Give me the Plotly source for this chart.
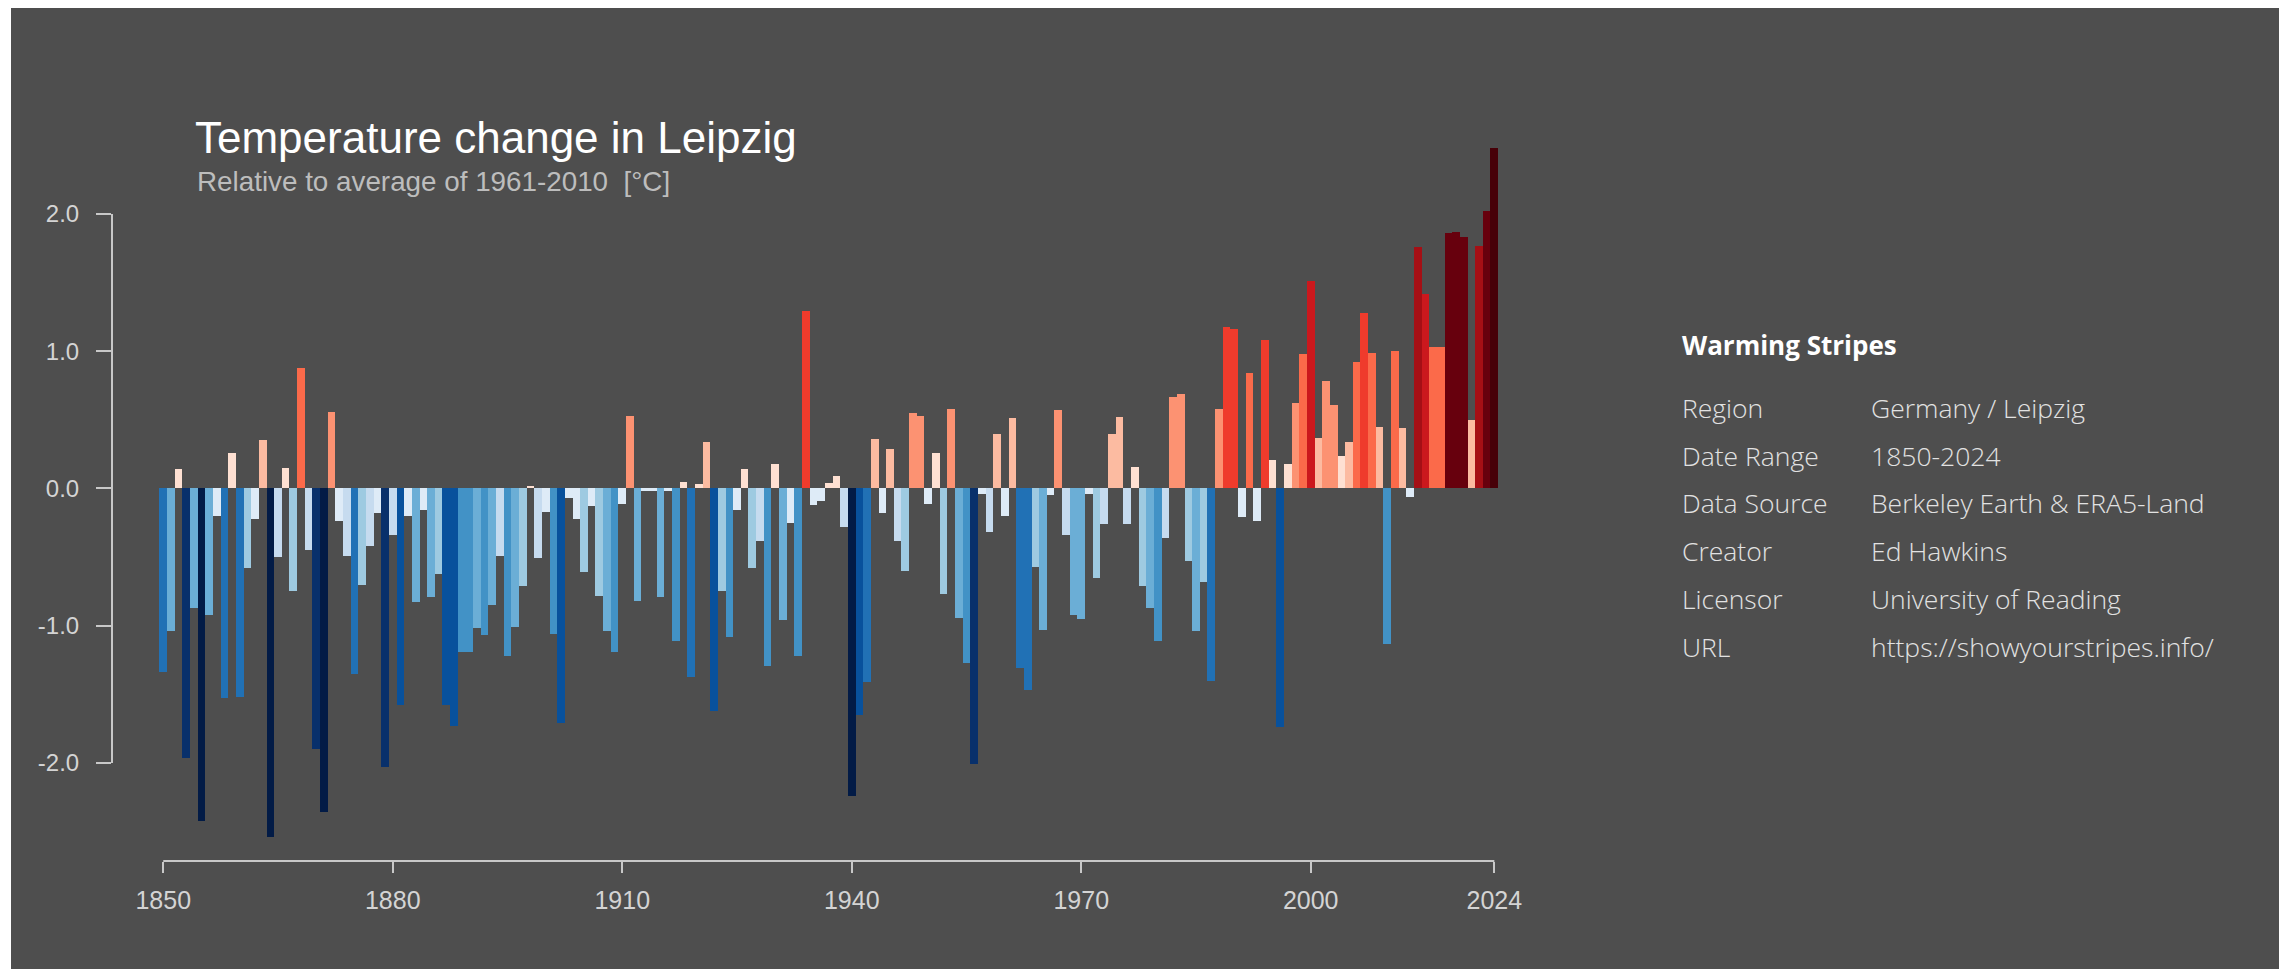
import plotly.graph_objects as go

# ---------------- data ----------------
years = list(range(1850, 2025))
anomaly = [
    -1.34, -1.04, 0.14, -1.96, -0.87, -2.42, -0.92, -0.20, -1.53, 0.26,   # 1850-1859
    -1.52, -0.58, -0.22, 0.35, -2.54, -0.50, 0.15, -0.75, 0.88, -0.45,    # 1860-1869
    -1.90, -2.36, 0.56, -0.24, -0.49, -1.35, -0.70, -0.42, -0.18, -2.03,  # 1870-1879
    -0.34, -1.58, -0.20, -0.83, -0.16, -0.79, -0.62, -1.58, -1.73, -1.19, # 1880-1889
    -1.19, -1.02, -1.07, -0.85, -0.49, -1.22, -1.01, -0.71, 0.02, -0.51,  # 1890-1899
    -0.17, -1.06, -1.71, -0.07, -0.22, -0.61, -0.13, -0.78, -1.04, -1.19, # 1900-1909
    -0.11, 0.53, -0.82, -0.02, -0.02, -0.79, -0.02, -1.11, 0.05, -1.37,   # 1910-1919
    0.03, 0.34, -1.62, -0.75, -1.08, -0.16, 0.14, -0.58, -0.38, -1.29,    # 1920-1929
    0.18, -0.96, -0.25, -1.22, 1.29, -0.12, -0.09, 0.04, 0.09, -0.28,     # 1930-1939
    -2.24, -1.65, -1.41, 0.36, -0.18, 0.29, -0.38, -0.60, 0.55, 0.53,     # 1940-1949
    -0.11, 0.26, -0.77, 0.58, -0.94, -1.27, -2.01, -0.04, -0.32, 0.40,    # 1950-1959
    -0.20, 0.51, -1.31, -1.47, -0.57, -1.03, -0.05, 0.57, -0.34, -0.92,   # 1960-1969
    -0.95, -0.04, -0.65, -0.26, 0.40, 0.52, -0.26, 0.16, -0.71, -0.87,    # 1970-1979
    -1.11, -0.36, 0.67, 0.69, -0.53, -1.04, -0.68, -1.40, 0.58, 1.18,     # 1980-1989
    1.16, -0.21, 0.84, -0.24, 1.08, 0.21, -1.74, 0.18, 0.62, 0.98,        # 1990-1999
    1.51, 0.37, 0.78, 0.61, 0.24, 0.34, 0.92, 1.28, 0.99, 0.45,           # 2000-2009
    -1.13, 1.00, 0.44, -0.06, 1.76, 1.42, 1.03, 1.03, 1.86, 1.87,         # 2010-2019
    1.83, 0.50, 1.77, 2.02, 2.48,                                         # 2020-2024
]
x_tick_vals = [1850, 1880, 1910, 1940, 1970, 2000, 2024]
y_tick_vals = [-2, -1, 0, 1, 2]
y_tick_text = ["-2.0", "-1.0", "0.0", "1.0", "2.0"]

title_text = "Temperature change in Leipzig"
subtitle_text = "Relative to average of 1961-2010  [°C]"
info_header = "Warming Stripes"
info_labels = ["Region", "Date Range", "Data Source", "Creator", "Licensor", "URL"]
info_values = ["Germany / Leipzig", "1850-2024", "Berkeley Earth & ERA5-Land",
               "Ed Hawkins", "University of Reading", "https://showyourstripes.info/"]

# ---------------- colour scale (stepped, warming-stripes palette) ----------------
cmin, cmax = -2.6, 2.6
bin_edges = [-2.6, -2.08, -1.82, -1.56, -1.30, -1.05, -0.785, -0.52, -0.255, 0.0,
             0.27, 0.525, 0.80, 1.05, 1.35, 1.60, 1.80, 2.10, 2.6]
bin_colors = ["#021b46", "#08306b", "#08519c", "#2171b5", "#4292c6", "#6baed6",
              "#9ecae1", "#c6dbef", "#deebf7",
              "#fee0d2", "#fcbba1", "#fc9272", "#fb6a4a", "#ef3b2c", "#cb181d",
              "#a50f15", "#67000d", "#470008"]
colorscale = []
for i, c in enumerate(bin_colors):
    lo = (bin_edges[i] - cmin) / (cmax - cmin)
    hi = (bin_edges[i + 1] - cmin) / (cmax - cmin)
    colorscale.append([lo, c])
    colorscale.append([hi, c])

# ---------------- geometry (page pixels; page body adds an 8px offset) ----------------
OFF = 8
W, H = 2287 - OFF, 969 - OFF
L, R, T, B = 112 - OFF, 1510 - OFF, 140 - OFF, 861 - OFF


def xp(px):
    return (px - OFF - L) / (R - L)


def yp(py):
    return (B - (py - OFF)) / (B - T)


BG = "#4e4e4e"
AXIS = "#c8c8c8"
TICKFONT = "#d4d4d4"

fig = go.Figure()
fig.add_trace(go.Bar(
    x=years, y=anomaly, width=1.0,
    marker=dict(color=anomaly, colorscale=colorscale, cmin=cmin, cmax=cmax,
                line=dict(width=0)),
    showlegend=False, hoverinfo="x+y",
))

# background panel
fig.add_shape(type="rect", xref="paper", yref="paper", layer="below",
              x0=xp(11), x1=xp(2279), y0=yp(980), y1=yp(7),
              fillcolor=BG, line=dict(width=0))
# axis spines limited to tick span
fig.add_shape(type="line", xref="x", yref="paper", x0=x_tick_vals[0], x1=x_tick_vals[-1],
              y0=0, y1=0, line=dict(color=AXIS, width=2))
fig.add_shape(type="line", xref="paper", yref="y", x0=0, x1=0,
              y0=y_tick_vals[0], y1=y_tick_vals[-1], line=dict(color=AXIS, width=2))

ann = []
ann.append(dict(text=title_text, xref="paper", yref="paper", x=xp(193), y=yp(137),
                xanchor="left", yanchor="middle", showarrow=False,
                font=dict(family="Liberation Sans, Arial, sans-serif", size=44, color="#ffffff")))
ann.append(dict(text=subtitle_text, xref="paper", yref="paper", x=xp(195), y=yp(182),
                xanchor="left", yanchor="middle", showarrow=False,
                font=dict(family="Liberation Sans, Arial, sans-serif", size=27.8, color="#bdbdbd")))
ann.append(dict(text="<b>" + info_header + "</b>", xref="paper", yref="paper",
                x=xp(1680), y=yp(345), xanchor="left", yanchor="middle", showarrow=False,
                font=dict(family="Open Sans, sans-serif", size=26, color="#ffffff")))
row_y0, row_dy = 408, 47.7
for i, (lab, val) in enumerate(zip(info_labels, info_values)):
    yy = row_y0 + i * row_dy
    ann.append(dict(text=lab, xref="paper", yref="paper", x=xp(1680), y=yp(yy),
                    xanchor="left", yanchor="middle", showarrow=False,
                    font=dict(family="Open Sans, sans-serif", size=26.5, color="#e2e2e2", weight=300)))
    ann.append(dict(text=val, xref="paper", yref="paper", x=xp(1869), y=yp(yy),
                    xanchor="left", yanchor="middle", showarrow=False,
                    font=dict(family="Open Sans, sans-serif", size=26.5, color="#e2e2e2", weight=300)))

fig.update_layout(
    width=W, height=H, autosize=False,
    margin=dict(l=L, r=W - R, t=T, b=H - B, pad=0),
    paper_bgcolor="#ffffff", plot_bgcolor="rgba(0,0,0,0)",
    bargap=0,
    annotations=ann,
    xaxis=dict(range=[1843.3, 2026.05], showgrid=False, zeroline=False, showline=False,
               tickmode="array", tickvals=x_tick_vals,
               ticks="outside", ticklen=11, tickwidth=2, tickcolor=AXIS,
               ticklabelstandoff=6,
               tickfont=dict(family="Liberation Sans, Arial, sans-serif", size=25, color=TICKFONT)),
    yaxis=dict(range=[-2.714, 2.539], showgrid=False, zeroline=False, showline=False,
               tickmode="array", tickvals=y_tick_vals, ticktext=y_tick_text,
               ticks="outside", ticklen=15, tickwidth=2, tickcolor=AXIS,
               ticklabelstandoff=12,
               tickfont=dict(family="Liberation Sans, Arial, sans-serif", size=24, color=TICKFONT)),
)

fig.write_html("out.html")
